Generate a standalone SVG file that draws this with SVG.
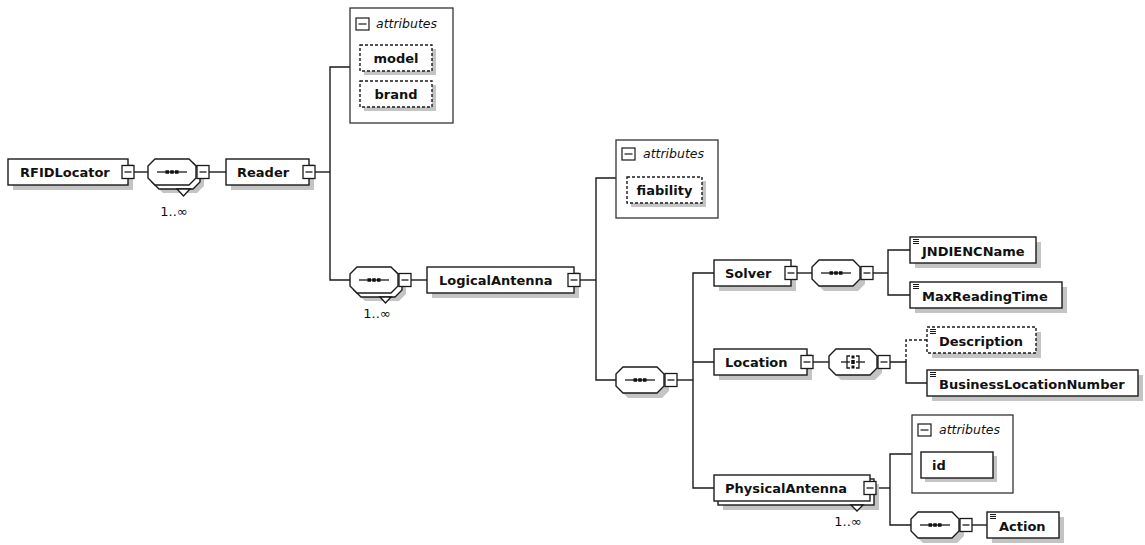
<svg xmlns="http://www.w3.org/2000/svg" xmlns:xlink="http://www.w3.org/1999/xlink" width="1145" height="545" viewBox="0 0 1145 545">
  <style>
    .ln { stroke:#1a1a1a; stroke-width:1.4; fill:none; }
    .dl { stroke:#1a1a1a; stroke-width:1.4; fill:none; stroke-dasharray:3 2; }
    .box { fill:#fff; stroke:#1a1a1a; stroke-width:1.4; }
    .dbox { fill:#fff; stroke:#1a1a1a; stroke-width:1.4; stroke-dasharray:3 2; }
    .frame { fill:#fff; stroke:#333; stroke-width:1.3; }
    .sh { fill:#c4c4c4; stroke:none; }
    .t { font-family:"DejaVu Sans", Verdana, sans-serif; font-weight:bold; font-size:13px; fill:#111; }
    .it { font-family:"DejaVu Sans", Verdana, sans-serif; font-style:italic; font-size:12.5px; fill:#111; }
    .occ { font-family:"DejaVu Sans", Verdana, sans-serif; font-size:13px; fill:#111; }
  </style>
  <defs>
    <!-- compositor outline, 48 x 26 -->
    <path id="oct" d="M7,0 H41 L48,7 V19 L41,26 H7 L0,19 V7 Z"/>
    <!-- collapse button -->
    <g id="btn">
      <rect x="0" y="0" width="12" height="13" fill="#fff" stroke="#1a1a1a" stroke-width="1.3"/>
      <line x1="2.5" y1="6.5" x2="9.5" y2="6.5" stroke="#1a1a1a" stroke-width="1.3"/>
    </g>
    <!-- sequence glyph, centred on origin -->
    <g id="seqg">
      <line x1="-15" y1="0" x2="15" y2="0" stroke="#1a1a1a" stroke-width="1.3"/>
      <rect x="-6.5" y="-1.75" width="3.5" height="3.5" fill="#111"/>
      <rect x="-1.75" y="-1.75" width="3.5" height="3.5" fill="#111"/>
      <rect x="3" y="-1.75" width="3.5" height="3.5" fill="#111"/>
    </g>
    <!-- choice glyph, centred on origin -->
    <g id="chg" fill="none" stroke="#1a1a1a" stroke-width="1.3">
      <line x1="-12" y1="0" x2="-3" y2="0"/>
      <polyline points="-3,-6 -6,-6 -6,6 -3,6"/>
      <line x1="3" y1="0" x2="12" y2="0"/>
      <polyline points="3,-6 6,-6 6,6 3,6"/>
      <rect x="-1.5" y="-6.5" width="3" height="3" fill="#111" stroke="none"/>
      <rect x="-1.75" y="-2" width="3.5" height="4" fill="#111" stroke="none"/>
      <rect x="-1.5" y="3.5" width="3" height="3" fill="#111" stroke="none"/>
    </g>
    <!-- simple-content mark -->
    <g id="doc" stroke="#1a1a1a" stroke-width="1">
      <line x1="0" y1="0.5" x2="6" y2="0.5"/>
      <line x1="0" y1="2.5" x2="6" y2="2.5"/>
      <line x1="0" y1="4.5" x2="6" y2="4.5"/>
    </g>
    <!-- attributes header icon -->
    <g id="attic">
      <rect x="0" y="0" width="13" height="12" fill="#fff" stroke="#1a1a1a" stroke-width="1.2"/>
      <line x1="2.5" y1="6" x2="10.5" y2="6" stroke="#1a1a1a" stroke-width="1.2"/>
    </g>
  </defs>

  <rect width="1145" height="545" fill="#fff"/>

  <!-- connectors -->
  <g id="connectors">
    <path class="ln" d="M134,172 H148"/>
    <path class="ln" d="M209,172 H226"/>
    <path class="ln" d="M315,172 H330"/>
    <path class="ln" d="M350,67 H330 V280 H350"/>
    <path class="ln" d="M411,280 H427"/>
    <path class="ln" d="M580,280 H596"/>
    <path class="ln" d="M616,178 H596 V380 H616"/>
    <path class="ln" d="M677,380 H693"/>
    <path class="ln" d="M714,273 H693 V488 H714 M693,362 H714"/>
    <path class="ln" d="M797,273 H812"/>
    <path class="ln" d="M873,273 H888"/>
    <path class="ln" d="M910,250 H888 V295 H910"/>
    <path class="ln" d="M813,362 H829"/>
    <path class="ln" d="M890,362 H906 V383 H927"/>
    <path class="dl" d="M906,362 V340 H927"/>
    <path class="ln" d="M876,488 H890"/>
    <path class="ln" d="M912,454 H890 V525 H911"/>
    <path class="ln" d="M972,525 H987"/>
  </g>

  <!-- RFIDLocator -->
  <g id="rfidlocator">
    <rect class="sh" x="13" y="164" width="120" height="26"/>
    <rect class="box" x="8" y="159" width="120" height="26"/>
    <text class="t" x="20" y="177">RFIDLocator</text>
    <use xlink:href="#btn" x="122" y="165.5"/>
  </g>

  <!-- sequence 1..∞ under RFIDLocator -->
  <g id="seq-reader">
    <use xlink:href="#oct" class="sh" x="156" y="167"/>
    <use xlink:href="#oct" class="box" x="152" y="163"/>
    <use xlink:href="#oct" class="box" x="148" y="159"/>
    <use xlink:href="#seqg" x="172" y="172"/>
    <polygon class="box" points="177,189 190,189 183.5,196"/>
    <use xlink:href="#btn" x="197" y="165.5"/>
    <text class="occ" x="174" y="216" text-anchor="middle">1..∞</text>
  </g>

  <!-- Reader -->
  <g id="reader">
    <rect class="sh" x="231" y="164" width="83" height="26"/>
    <rect class="box" x="226" y="159" width="83" height="26"/>
    <text class="t" x="237" y="177">Reader</text>
    <use xlink:href="#btn" x="303" y="165.5"/>
  </g>

  <!-- Reader attributes -->
  <g id="reader-attributes">
    <rect class="frame" x="350" y="8" width="103" height="115"/>
    <use xlink:href="#attic" x="356" y="18"/>
    <text class="it" x="376" y="28">attributes</text>
    <rect class="sh" x="364" y="49" width="72" height="26"/>
    <rect class="dbox" x="360" y="45" width="72" height="26"/>
    <text class="t" x="396" y="63" text-anchor="middle">model</text>
    <rect class="sh" x="364" y="85" width="72" height="26"/>
    <rect class="dbox" x="360" y="81" width="72" height="26"/>
    <text class="t" x="396" y="99" text-anchor="middle">brand</text>
  </g>

  <!-- sequence 1..∞ under Reader -->
  <g id="seq-logicalantenna">
    <use xlink:href="#oct" class="sh" x="358" y="275"/>
    <use xlink:href="#oct" class="box" x="354" y="271"/>
    <use xlink:href="#oct" class="box" x="350" y="267"/>
    <use xlink:href="#seqg" x="374" y="280"/>
    <polygon class="box" points="380,297 391,297 385.5,303"/>
    <use xlink:href="#btn" x="399" y="273.5"/>
    <text class="occ" x="377" y="318" text-anchor="middle">1..∞</text>
  </g>

  <!-- LogicalAntenna -->
  <g id="logicalantenna">
    <rect class="sh" x="432" y="272" width="147" height="26"/>
    <rect class="box" x="427" y="267" width="147" height="26"/>
    <text class="t" x="439" y="285">LogicalAntenna</text>
    <use xlink:href="#btn" x="568" y="273.5"/>
  </g>

  <!-- LogicalAntenna attributes -->
  <g id="logicalantenna-attributes">
    <rect class="frame" x="616" y="140" width="102" height="78"/>
    <use xlink:href="#attic" x="622" y="148"/>
    <text class="it" x="643" y="158">attributes</text>
    <rect class="sh" x="631" y="181" width="75" height="26"/>
    <rect class="dbox" x="627" y="177" width="75" height="26"/>
    <text class="t" x="664.5" y="195" text-anchor="middle">fiability</text>
  </g>

  <!-- sequence under LogicalAntenna -->
  <g id="seq-antenna-content">
    <use xlink:href="#oct" class="sh" x="621" y="372"/>
    <use xlink:href="#oct" class="box" x="616" y="367"/>
    <use xlink:href="#seqg" x="640" y="380"/>
    <use xlink:href="#btn" x="665" y="373.5"/>
  </g>

  <!-- Solver -->
  <g id="solver">
    <rect class="sh" x="719" y="265" width="77" height="26"/>
    <rect class="box" x="714" y="260" width="77" height="26"/>
    <text class="t" x="725" y="278">Solver</text>
    <use xlink:href="#btn" x="785" y="266.5"/>
  </g>
  <g id="seq-solver">
    <use xlink:href="#oct" class="sh" x="817" y="265"/>
    <use xlink:href="#oct" class="box" x="812" y="260"/>
    <use xlink:href="#seqg" x="836" y="273"/>
    <use xlink:href="#btn" x="861" y="266.5"/>
  </g>
  <g id="jndiencname">
    <rect class="sh" x="915" y="242" width="126" height="26"/>
    <rect class="box" x="910" y="237" width="126" height="26"/>
    <use xlink:href="#doc" x="913" y="239"/>
    <text class="t" x="922" y="256">JNDIENCName</text>
  </g>
  <g id="maxreadingtime">
    <rect class="sh" x="915" y="287" width="152" height="26"/>
    <rect class="box" x="910" y="282" width="152" height="26"/>
    <use xlink:href="#doc" x="913" y="284"/>
    <text class="t" x="922" y="301">MaxReadingTime</text>
  </g>

  <!-- Location -->
  <g id="location">
    <rect class="sh" x="719" y="354" width="93" height="26"/>
    <rect class="box" x="714" y="349" width="93" height="26"/>
    <text class="t" x="725" y="367">Location</text>
    <use xlink:href="#btn" x="801" y="355.5"/>
  </g>
  <g id="choice-location">
    <use xlink:href="#oct" class="sh" x="834" y="354"/>
    <use xlink:href="#oct" class="box" x="829" y="349"/>
    <use xlink:href="#chg" x="853" y="362"/>
    <use xlink:href="#btn" x="878" y="355.5"/>
  </g>
  <g id="description">
    <rect class="sh" x="932" y="332" width="109" height="26"/>
    <rect class="dbox" x="927" y="327" width="109" height="26"/>
    <use xlink:href="#doc" x="930" y="329"/>
    <text class="t" x="939" y="346">Description</text>
  </g>
  <g id="businesslocationnumber">
    <rect class="sh" x="932" y="375" width="211" height="26"/>
    <rect class="box" x="927" y="370" width="211" height="26"/>
    <use xlink:href="#doc" x="930" y="372"/>
    <text class="t" x="939" y="389">BusinessLocationNumber</text>
  </g>

  <!-- PhysicalAntenna 1..∞ -->
  <g id="physicalantenna">
    <rect class="sh" x="723" y="484" width="156" height="26"/>
    <rect class="box" x="718" y="479" width="156" height="26"/>
    <rect class="box" x="714" y="475" width="156" height="26"/>
    <text class="t" x="725" y="493">PhysicalAntenna</text>
    <polygon class="box" points="851,505 863,505 857,511"/>
    <use xlink:href="#btn" x="864" y="481.5"/>
    <text class="occ" x="848" y="526" text-anchor="middle">1..∞</text>
  </g>

  <!-- PhysicalAntenna attributes -->
  <g id="physicalantenna-attributes">
    <rect class="frame" x="912" y="415" width="101" height="78"/>
    <use xlink:href="#attic" x="918" y="424"/>
    <text class="it" x="939" y="434">attributes</text>
    <rect class="sh" x="925" y="456" width="72" height="26"/>
    <rect class="box" x="921" y="452" width="72" height="26"/>
    <text class="t" x="932" y="470">id</text>
  </g>

  <!-- sequence under PhysicalAntenna -->
  <g id="seq-action">
    <use xlink:href="#oct" class="sh" x="916" y="517"/>
    <use xlink:href="#oct" class="box" x="911" y="512"/>
    <use xlink:href="#seqg" x="935" y="525"/>
    <use xlink:href="#btn" x="960" y="518.5"/>
  </g>
  <g id="action">
    <rect class="sh" x="992" y="517" width="72" height="26"/>
    <rect class="box" x="987" y="512" width="72" height="26"/>
    <use xlink:href="#doc" x="990" y="514"/>
    <text class="t" x="999" y="531">Action</text>
  </g>
</svg>
